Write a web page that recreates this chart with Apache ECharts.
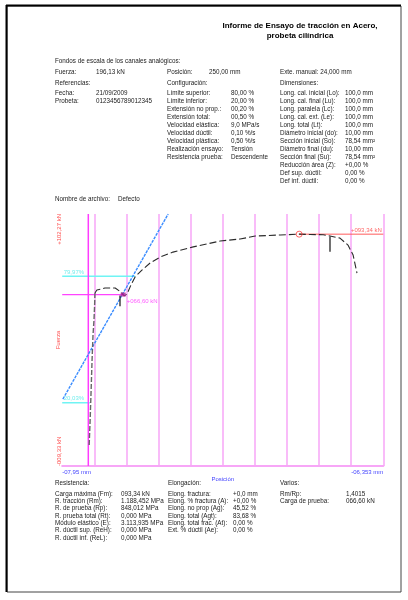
<!DOCTYPE html>
<html>
<head>
<meta charset="utf-8">
<script src="https://cdn.jsdelivr.net/npm/echarts@6/dist/echarts.min.js"></script>
<style>
html,body{margin:0;padding:0;background:#fff;}
#main{width:408px;height:600px;}
</style>
</head>
<body>
<div id="main"></div>
<script>
// x = position in grid divisions (0..10), y = fuerza in kN
var curveLoad = [[0.84,0],[0.87,11],[0.90,24],[0.93,37.6],[0.96,48.7],[0.99,55.3],[1.01,62],[1.02,67.3]];
var curveMain = [[1.02,67.3],[1.08,68.6],[1.33,69.5],[1.65,69.5],[1.83,67.7],[1.93,66],[2.02,66.8],[2.14,70.8],[2.27,74.4],[2.49,77.5],[2.74,80.6],[3.05,83.2],[3.45,85.4],[4.08,87.7],[4.92,90.3],[5.54,91.2],[6.01,92.5],[6.79,93.0],[7.38,93.34],[7.72,93.2],[8.13,93.1],[8.34,92.5],[8.65,91.6],[8.90,88.5],[9.06,84.1],[9.18,76.1]];
var elasticLine = [[0.02,20.3],[3.30,102.27]];
var line80 = [[0,74.67],[2.27,74.67]];
var line20 = [[0,18.67],[0.86,18.67]];
var lineRp = [[0,66.6],[1.90,66.6]];
var markerX = [[0.813,-9.33],[0.813,102.27]];
var peakLine = [[7.38,93.34],[10,93.34]];
var tick1 = [[1.80,66.2],[1.80,61.4]];
var tick2 = [[8.34,92.3],[8.34,85.6]];
var peakPoint = [7.38,93.34];
var rpPoint = [1.90,66.6];
var yMin = -9.33, yMax = 102.27;
var xLabels = ['-07,95 mm','-06,353 mm'];
var yLabels = ['+102,27 kN','-009,33 kN'];

var titleLines = ['Informe de Ensayo de tracción en Acero,','probeta cilíndrica'];
var scaleRow = [['Fuerza:','196,13 kN'],['Posición:','250,00 mm'],['Exte. manual: 24,000 mm','']];
var refsRows = [['Fecha:','21/09/2009'],['Probeta:','0123456789012345']];
var configRows = [['Límite superior:','80,00 %'],['Límite inferior:','20,00 %'],['Extensión no prop.:','00,20 %'],['Extensión total:','00,50 %'],['Velocidad elástica:','9,0 MPa/s'],['Velocidad dúctil:','0,10 %/s'],['Velocidad plástica:','0,50 %/s'],['Realización ensayo:','Tensión'],['Resistencia prueba:','Descendente']];
var dimsRows = [['Long. cal. inicial (Lo):','100,0 mm'],['Long. cal. final (Lu):','100,0 mm'],['Long. paralela (Lc):','100,0 mm'],['Long. cal. ext. (Le):','100,0 mm'],['Long. total (Lt):','100,0 mm'],['Diámetro inicial (do):','10,00 mm'],['Sección inicial (So):','78,54 mm²'],['Diámetro final (du):','10,00 mm'],['Sección final (Su):','78,54 mm²'],['Reducción área (Z):','+0,00 %'],['Def sup. dúctil:','0,00 %'],['Def inf. dúctil:','0,00 %']];
var resistRows = [['Carga máxima (Fm):','093,34 kN'],['R. tracción (Rm):','1.188,452 MPa'],['R. de prueba (Rp):','848,012 MPa'],['R. prueba total (Rt):','0,000 MPa'],['Módulo elástico (E):','3.113,935 MPa'],['R. dúctil sup. (ReH):','0,000 MPa'],['R. dúctil inf. (ReL):','0,000 MPa']];
var elongRows = [['Elong. fractura:','+0,0 mm'],['Elong. % fractura (A):','+0,00 %'],['Elong. no prop (Ag):','45,52 %'],['Elong. total (Agt):','83,68 %'],['Elong. total frac. (At):','0,00 %'],['Ext. % dúctil (Ae):','0,00 %']];
var variosRows = [['Rm/Rp:','1,4015'],['Carga de prueba:','066,60 kN']];

var FONT = '"Liberation Sans", Arial, sans-serif';
var g = [];

function txt(x, y, s, o) {
    o = o || {};
    g.push({
        type: 'text', x: x, y: y, rotation: o.rot || 0, silent: true,
        style: {
            text: s, fill: o.color || '#222',
            font: (o.bold ? 'bold ' : '') + (o.size || 6.3) + 'px ' + FONT,
            textAlign: o.align || 'left', textVerticalAlign: 'middle'
        }
    });
}
function rows(list, lx, vx, y0, dy) {
    list.forEach(function (r, i) {
        txt(lx, y0 + i * dy, r[0]);
        if (r[1]) txt(vx, y0 + i * dy, r[1]);
    });
}

// page frame
g.push({type: 'rect', silent: true, shape: {x: 7, y: 6, width: 394, height: 586}, style: {fill: 'none', stroke: '#444', lineWidth: 1}});
g.push({type: 'line', silent: true, shape: {x1: 6.5, y1: 5, x2: 6.5, y2: 592}, style: {stroke: '#000', lineWidth: 2}});
g.push({type: 'line', silent: true, shape: {x1: 6, y1: 5.5, x2: 401, y2: 5.5}, style: {stroke: '#000', lineWidth: 2}});

txt(300, 26, titleLines[0], {bold: true, size: 8, align: 'center', color: '#000'});
txt(300, 36, titleLines[1], {bold: true, size: 8, align: 'center', color: '#000'});

txt(55, 61, 'Fondos de escala de los canales analógicos:');
txt(55, 72, scaleRow[0][0]); txt(96, 72, scaleRow[0][1]);
txt(167, 72, scaleRow[1][0]); txt(209, 72, scaleRow[1][1]);
txt(280, 72, scaleRow[2][0]);
txt(55, 83, 'Referencias:'); txt(167, 83, 'Configuración:'); txt(280, 83, 'Dimensiones:');
rows(refsRows, 55, 96, 93, 8);
rows(configRows, 167, 231, 93, 8);
rows(dimsRows, 280, 345, 93, 8);
txt(55, 199, 'Nombre de archivo:'); txt(118, 199, 'Defecto');

txt(55, 483, 'Resistencia:'); txt(168, 483, 'Elongación:'); txt(280, 483, 'Varios:');
rows(resistRows, 55, 121, 494, 7.3);
rows(elongRows, 168, 233, 494, 7.3);
rows(variosRows, 280, 346, 494, 7.3);

// rotated force labels
txt(59, 214, yLabels[0], {rot: Math.PI / 2, align: 'right', color: '#ff4b4b', size: 6});
txt(59, 466, yLabels[1], {rot: Math.PI / 2, align: 'left', color: '#ff4b4b', size: 6});

function ln(name, data, color, width, type, z) {
    return {
        name: name, type: 'line', data: data, symbol: 'none', silent: true, z: z || 2,
        lineStyle: {color: color, width: width, type: type || 'solid'}
    };
}
function lab(v, text, color, pos, off) {
    return {value: v, label: {show: true, formatter: text, color: color, position: pos, distance: 1, offset: off}};
}

var chart = echarts.init(document.getElementById('main'), null, {renderer: 'canvas'});
chart.setOption({
    animation: false,
    backgroundColor: '#fff',
    grid: {left: 62.2, right: 24.7, top: 214, bottom: 134},
    xAxis: {
        type: 'value', min: 0, max: 10, interval: 1,
        name: 'Posición', nameLocation: 'middle', nameGap: 3,
        nameTextStyle: {color: '#4444ff', fontSize: 6, fontFamily: FONT},
        axisLine: {show: true, onZero: false, lineStyle: {color: '#f7a6f7', width: 2}},
        axisTick: {show: false},
        splitLine: {show: true, showMinLine: false, lineStyle: {color: '#f9bcf9', width: 2}},
        axisLabel: {
            show: true, color: '#4444ff', fontSize: 6, fontFamily: FONT, margin: 3,
            alignMinLabel: 'left', alignMaxLabel: 'right',
            formatter: function (v) { return v === 0 ? xLabels[0] : (v === 10 ? xLabels[1] : ''); }
        }
    },
    yAxis: {
        type: 'value', min: yMin, max: yMax,
        name: 'Fuerza', nameLocation: 'middle', nameRotate: 90, nameGap: 1,
        nameTextStyle: {color: '#ff4b4b', fontSize: 6, fontFamily: FONT},
        axisLine: {show: false}, axisTick: {show: false}, axisLabel: {show: false}, splitLine: {show: false}
    },
    graphic: g,
    series: [
        ln('marcador', markerX, '#ff3cff', 1.5, 'solid', 3),
        ln('80%', line80, '#70f4f4', 1.5),
        ln('20%', line20, '#70f4f4', 1.5),
        ln('Rp', lineRp, '#ff44ff', 1.3),
        ln('Fm', peakLine, '#ff5c5c', 1),
        ln('elastica', elasticLine, '#3a8cff', 1.4, [3, 1], 4),
        ln('carga', curveLoad, '#666', 1.4, [5, 2], 5),
        ln('curva', curveMain, '#2a2a2a', 1.1, [7, 3], 5),
        ln('t1', tick1, '#111', 1.2, 'solid', 5),
        ln('t2', tick2, '#111', 1.2, 'solid', 5),
        {
            type: 'scatter', silent: true, z: 6, symbol: 'circle', symbolSize: 6,
            itemStyle: {color: 'rgba(255,255,255,0)', borderColor: '#ff4040', borderWidth: 1},
            data: [peakPoint]
        },
        {
            type: 'scatter', silent: true, z: 6, symbol: 'rect', symbolSize: [5, 4],
            itemStyle: {color: '#b0209a'},
            data: [rpPoint]
        },
        {
            type: 'scatter', silent: true, z: 7, symbolSize: 1,
            itemStyle: {color: 'rgba(0,0,0,0)'},
            label: {fontSize: 6, fontFamily: FONT},
            data: [
                lab(line80[0], '79,97%', '#4de8e8', 'right', [0, -4]),
                lab(line20[0], '20,03%', '#4de8e8', 'right', [0, -4]),
                lab(rpPoint, '+066,60 kN', '#ff33ff', 'right', [2, 7]),
                lab(peakLine[1], '+093,34 kN', '#ff4040', 'left', [0, -4])
            ]
        }
    ]
});
</script>
</body>
</html>
